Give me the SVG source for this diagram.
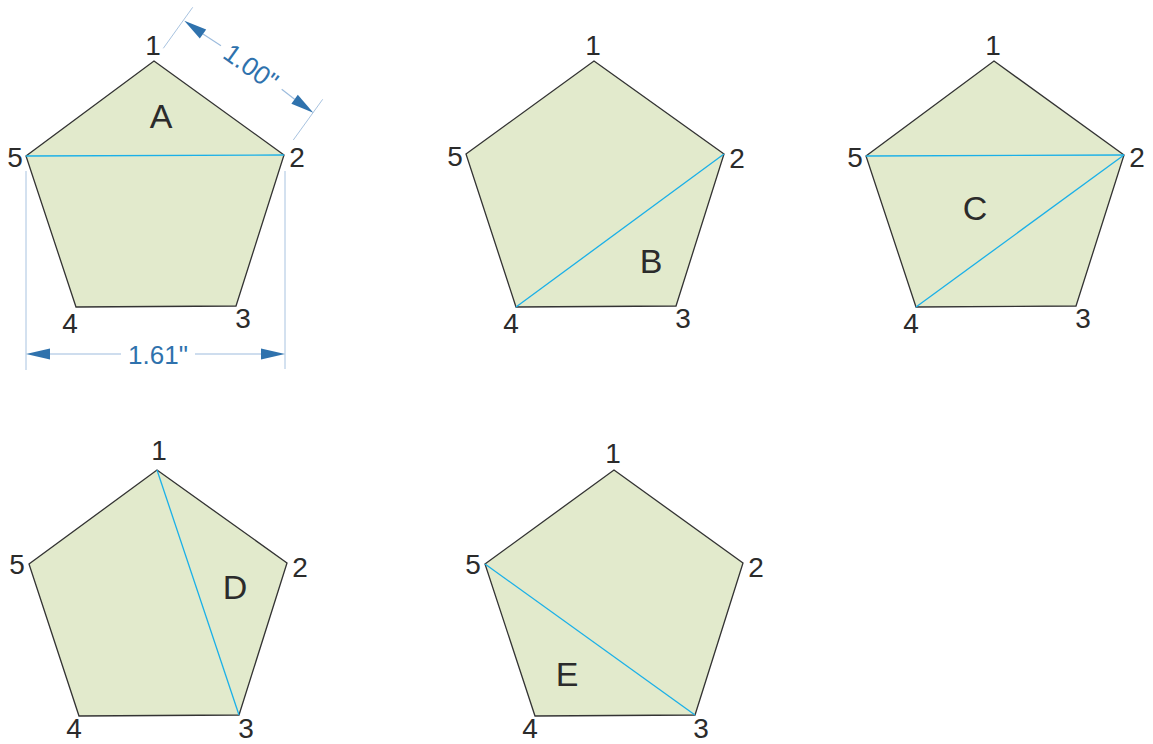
<svg xmlns="http://www.w3.org/2000/svg" width="1153" height="744" viewBox="0 0 1153 744">
<style>
.pg{fill:#e2eacc;stroke:#333;stroke-width:1.3;stroke-linejoin:miter}
.dg{stroke:#1ab0e8;stroke-width:1.3;fill:none}
.lb{font-family:"Liberation Sans",Arial,sans-serif;font-size:28px;fill:#2b2b2b;text-anchor:middle}
.lt{font-family:"Liberation Sans",Arial,sans-serif;font-size:34px;fill:#2b2b2b;text-anchor:middle}
.ext{stroke:#a8c3e0;stroke-width:1;fill:none}
.dl{stroke:#9dbcdd;stroke-width:1.2;fill:none}
.ah{fill:#2f72ad}
.dt{font-family:"Liberation Sans",Arial,sans-serif;font-size:26px;fill:#2f72ad;text-anchor:middle}
</style>
<rect width="1153" height="744" fill="#fff"/>
<g id="pentA">
<polygon class="pg" points="154,61 284,155 236,306 76,307 26,156"/>
<line class="dg" x1="26" y1="156" x2="284" y2="155"/>
<text class="lb" x="153" y="55">1</text><text class="lb" x="297" y="167">2</text><text class="lb" x="243" y="328">3</text><text class="lb" x="70" y="333">4</text><text class="lb" x="15" y="167">5</text>
<text class="lt" x="161" y="128">A</text>
</g>
<g id="dimensions">
<line class="ext" x1="163.3" y1="48.3" x2="192.7" y2="7.3"/>
<line class="ext" x1="293.3" y1="140" x2="322.7" y2="99.3"/>
<line class="dl" x1="203" y1="34.1" x2="221" y2="45.7"/>
<line class="dl" x1="281.7" y1="89.3" x2="294.6" y2="99.3"/>
<polygon class="ah" points="184.3,20.7 199.8,38.6 206.2,29.6"/>
<polygon class="ah" points="313.3,112.7 291.4,103.8 297.8,94.8"/>
<text class="dt" transform="translate(251,67) rotate(35.6)" x="0" y="9">1.00"</text>
<line class="ext" x1="26" y1="171" x2="26" y2="370"/>
<line class="ext" x1="285" y1="171" x2="285" y2="369"/>
<line class="dl" x1="50" y1="354" x2="121" y2="354"/>
<line class="dl" x1="195" y1="354" x2="261" y2="354"/>
<polygon class="ah" points="26,354 50,348.5 50,359.5"/>
<polygon class="ah" points="285,354 261,348.5 261,359.5"/>
<text class="dt" x="158" y="364">1.61"</text>
</g>
<g id="pentB">
<polygon class="pg" points="594,61 724,154 676,306 516,307 466,154"/>
<line class="dg" x1="724" y1="154" x2="516" y2="307"/>
<text class="lb" x="593" y="55">1</text><text class="lb" x="737" y="168">2</text><text class="lb" x="683" y="328">3</text><text class="lb" x="511" y="333">4</text><text class="lb" x="455" y="166">5</text>
<text class="lt" x="651" y="273">B</text>
</g>
<g id="pentC">
<polygon class="pg" points="994,61 1124,155 1076,306 916,307 866,156"/>
<line class="dg" x1="866" y1="156" x2="1124" y2="155"/>
<line class="dg" x1="1124" y1="155" x2="916" y2="307"/>
<text class="lb" x="993" y="55">1</text><text class="lb" x="1137" y="167">2</text><text class="lb" x="1083" y="328">3</text><text class="lb" x="911" y="333">4</text><text class="lb" x="855" y="167">5</text>
<text class="lt" x="975" y="220">C</text>
</g>
<g id="pentD">
<polygon class="pg" points="157,470 287,563 239,715 79,716 29,564"/>
<line class="dg" x1="157" y1="470" x2="239" y2="715"/>
<text class="lb" x="159" y="460">1</text><text class="lb" x="300" y="577">2</text><text class="lb" x="246" y="738">3</text><text class="lb" x="74" y="738">4</text><text class="lb" x="17" y="574">5</text>
<text class="lt" x="235" y="599">D</text>
</g>
<g id="pentE">
<polygon class="pg" points="614,470 743,563 695,715 535,716 485,564"/>
<line class="dg" x1="485" y1="564" x2="695" y2="715"/>
<text class="lb" x="613" y="463">1</text><text class="lb" x="756" y="577">2</text><text class="lb" x="701" y="738">3</text><text class="lb" x="530" y="738">4</text><text class="lb" x="473" y="574">5</text>
<text class="lt" x="567" y="686">E</text>
</g>
</svg>
